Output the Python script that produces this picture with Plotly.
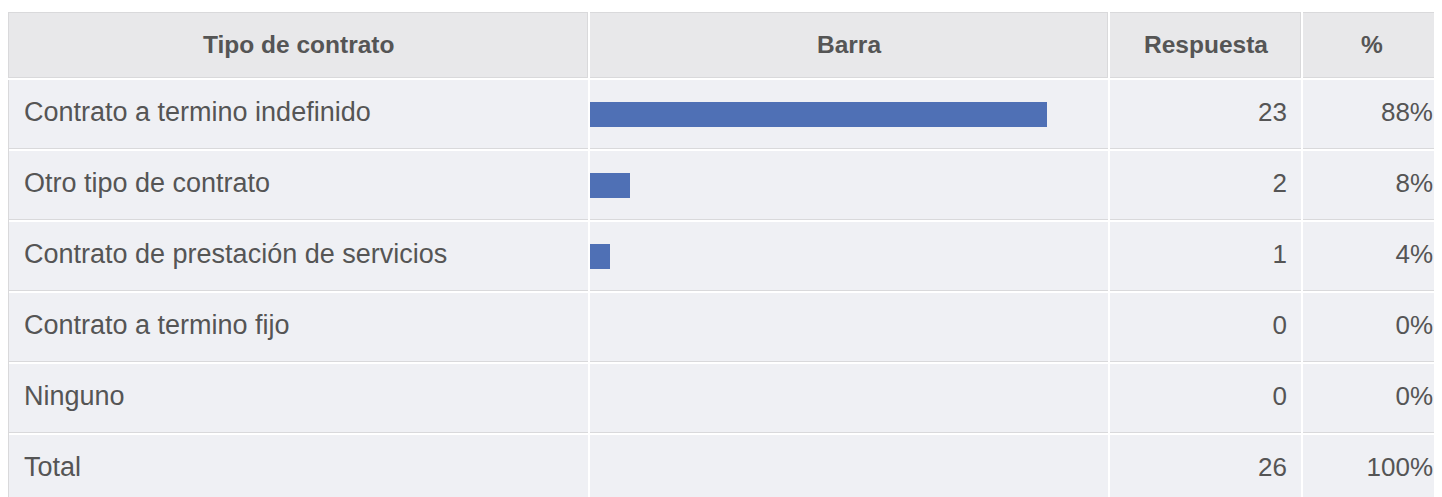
import plotly.graph_objects as go

# data
tipos = ["Contrato a termino indefinido", "Otro tipo de contrato",
         "Contrato de prestación de servicios", "Contrato a termino fijo", "Ninguno"]
respuestas = [23, 2, 1, 0, 0]
encabezados = ["Tipo de contrato", "Barra", "Respuesta", "%"]
total_label = "Total"

total = sum(respuestas)
shares = [r / total * 100 for r in respuestas]
filas = tipos + [total_label]
conteos = [str(r) for r in respuestas] + [str(total)]
porcentajes = [f"{round(s)}%" for s in shares] + ["100%"]
idx = list(range(len(filas)))

# geometry in figure px (the page adds an 8px body margin)
W, H = 1434, 489
COLS = [(1, 580), (582, 1100), (1102, 1293), (1295, 1434)]   # cell spans incl. right border px
ANCHOR = [16, None, 1279, 1425]                               # text anchor x per column
HEAD_CENTRE = [None, None, None, 1364]                        # last header cell is cut by the edge
BAR_FULL = 517                                                # px for 100 %
HEAD_TOP, HEAD_BOTTOM = 4, 70
BODY_TOP, PITCH, CELL_H = 72, 71, 68

BODY_BG = "#eff0f4"
HEAD_BG = "#e8e8ea"
BORDER = "#d9d9db"
BAR_COLOR = "#4f70b5"
TEXT = "#555555"
FONT = "Liberation Sans"

fig = go.Figure()

# column 1: contract types
fig.add_trace(go.Scatter(
    x=[0] * len(filas), y=idx, mode="text", text=filas,
    textposition="middle right", textfont=dict(family=FONT, size=27, color=TEXT),
    xaxis="x", yaxis="y", hoverinfo="skip", showlegend=False,
))

# column 2: bars
fig.add_trace(go.Bar(
    x=shares, y=idx[:len(tipos)], orientation="h", width=25 / PITCH,
    marker=dict(color=BAR_COLOR, line=dict(width=0)),
    customdata=tipos, hovertemplate="%{customdata}: %{x:.0f}%<extra></extra>",
    xaxis="x2", yaxis="y", showlegend=False,
))

# column 3: counts
fig.add_trace(go.Scatter(
    x=[0] * len(filas), y=idx, mode="text", text=conteos,
    textposition="middle left", textfont=dict(family=FONT, size=26, color=TEXT),
    xaxis="x3", yaxis="y", hoverinfo="skip", showlegend=False,
))

# column 4: percentages
fig.add_trace(go.Scatter(
    x=[0] * len(filas), y=idx, mode="text", text=porcentajes,
    textposition="middle left", textfont=dict(family=FONT, size=26, color=TEXT),
    xaxis="x4", yaxis="y", hoverinfo="skip", showlegend=False,
))


def x_range(i):
    a, b = COLS[i]
    if ANCHOR[i] is None:
        return [0, 100 * (b - a) / BAR_FULL]
    return [a - ANCHOR[i], b - ANCHOR[i]]


def x_val(i, px):
    a, b = COLS[i]
    r0, r1 = x_range(i)
    return r0 + (px - a) / (b - a) * (r1 - r0)


# y in row units: row k centred at k
def y_val(px):
    return (px - BODY_TOP - CELL_H / 2) / PITCH


axis_common = dict(showticklabels=False, ticks="", showline=False, zeroline=False,
                   fixedrange=True)
layout_axes = {}
for i, (a, b) in enumerate(COLS):
    name = "xaxis" if i == 0 else f"xaxis{i + 1}"
    layout_axes[name] = dict(
        domain=[a / W, b / W], range=x_range(i), anchor="y",
        tickmode="array", tickvals=[x_val(i, b - 0.5)],
        showgrid=True, gridcolor=BORDER, gridwidth=1, **axis_common,
    )

row_tops = [BODY_TOP + PITCH * k for k in range(1, len(filas))]
layout_axes["yaxis"] = dict(
    domain=[0, (H - BODY_TOP) / H],
    range=[y_val(H), y_val(BODY_TOP)],
    tickmode="array", tickvals=[y_val(t - 1) for t in row_tops],
    showgrid=True, gridcolor="white", gridwidth=2,
    minor=dict(tickmode="array", tickvals=[y_val(t - 2.5) for t in row_tops],
               showgrid=True, gridcolor=BORDER, gridwidth=1, ticks=""),
    showticklabels=False, ticks="", zeroline=False, fixedrange=True,
    showline=True, linecolor=BORDER, linewidth=1,
)
fig.update_layout(**layout_axes)

# header row
for i, ((a, b), label) in enumerate(zip(COLS, encabezados)):
    ref = "x" if i == 0 else f"x{i + 1}"
    w = b - a
    y0, y1 = (H - HEAD_BOTTOM) / H, (H - HEAD_TOP) / H
    fig.add_shape(type="rect", xref=f"{ref} domain", yref="paper",
                  x0=-1 / w if i == 0 else 0, x1=1, y0=y0, y1=y1,
                  fillcolor=BORDER, line=dict(width=0), layer="below")
    fig.add_shape(type="rect", xref=f"{ref} domain", yref="paper",
                  x0=0, x1=(w - 1) / w, y0=y0 + 1 / H, y1=y1 - 1 / H,
                  fillcolor=HEAD_BG, line=dict(width=0), layer="below")
    centre = HEAD_CENTRE[i] if HEAD_CENTRE[i] else (a + b) / 2
    fig.add_annotation(text=f"<b>{label}</b>", xref=f"{ref} domain", yref="paper",
                       x=(centre - a) / w,
                       y=(H - (HEAD_TOP + HEAD_BOTTOM) / 2) / H,
                       xanchor="center", yanchor="middle", showarrow=False,
                       font=dict(family=FONT, size=24.5, color=TEXT))

fig.update_layout(
    width=W, height=H,
    margin=dict(l=0, r=0, t=0, b=0),
    paper_bgcolor="white",
    plot_bgcolor=BODY_BG,
    bargap=0,
    showlegend=False,
)

fig.write_html("out.html")
